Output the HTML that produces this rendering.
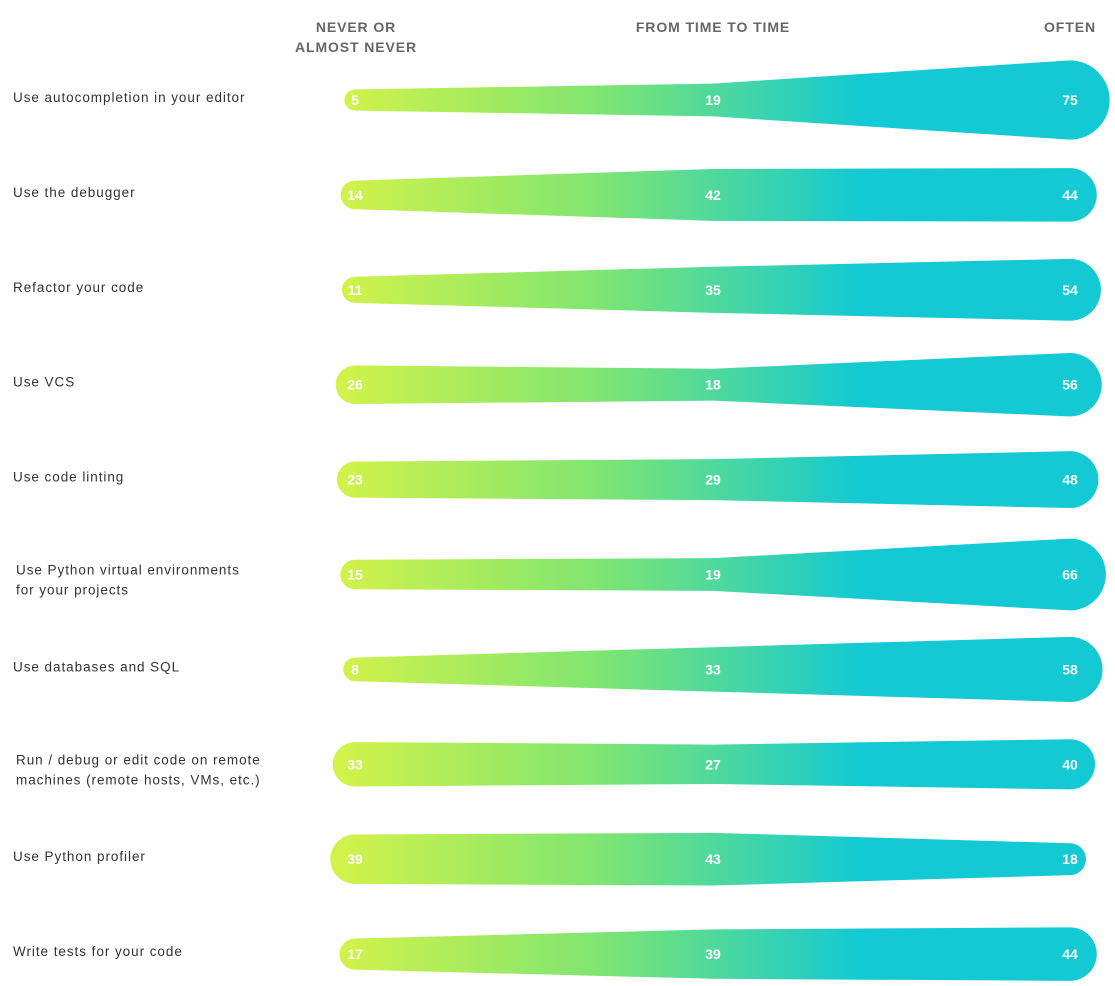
<!DOCTYPE html>
<html><head><meta charset="utf-8"><style>
body{margin:0;background:#fff;width:1115px;height:981px;overflow:hidden;font-family:"Liberation Sans",sans-serif}
</style></head><body>
<svg id="chart" width="1115" height="981" xmlns="http://www.w3.org/2000/svg">
<defs><linearGradient id="g" gradientUnits="userSpaceOnUse" x1="340" y1="0" x2="860" y2="0">
<stop offset="0" stop-color="#d2f24a"/><stop offset="0.5" stop-color="#7ee572"/><stop offset="1" stop-color="#13c9d3"/></linearGradient></defs>
<g font-weight="bold" font-size="14" fill="#666" text-anchor="middle" letter-spacing="0.9">
<text x="356" y="32">NEVER OR</text>
<text x="356" y="52">ALMOST NEVER</text>
<text x="713" y="32">FROM TIME TO TIME</text>
<text x="1070" y="32">OFTEN</text>
</g>
<g id="rows"></g>
</svg>
<script>
const categories=[["Use autocompletion in your editor"],["Use the debugger"],["Refactor your code"],["Use VCS"],["Use code linting"],["Use Python virtual environments","for your projects"],["Use databases and SQL"],["Run / debug or edit code on remote","machines (remote hosts, VMs, etc.)"],["Use Python profiler"],["Write tests for your code"]];
const never=[5,14,11,26,23,15,8,33,39,17];
const sometimes=[19,42,35,18,29,19,33,27,43,39];
const often=[75,44,54,56,48,66,58,40,18,44];
const NS="http://www.w3.org/2000/svg";
const g=document.getElementById('rows');
const xs=[355,713,1070];
const h=v=>17+0.83*v;
const rowY=i=>100+i*94.9;
categories.forEach((c,i)=>{
  const y=rowY(i);
  const a=h(never[i])/2,b=h(sometimes[i])/2,r=h(often[i])/2;
  const p=document.createElementNS(NS,'path');
  p.setAttribute('d',`M${xs[0]},${y-a} L${xs[1]},${y-b} L${xs[2]},${y-r} A${r},${r} 0 0 1 ${xs[2]},${y+r} L${xs[1]},${y+b} L${xs[0]},${y+a} A${a},${a} 0 0 1 ${xs[0]},${y-a} Z`);
  p.setAttribute('fill','url(#g)');
  
  
  g.appendChild(p);
  [never[i],sometimes[i],often[i]].forEach((v,k)=>{
    const t=document.createElementNS(NS,'text');
    t.setAttribute('x',xs[k]);t.setAttribute('y',y+5);
    t.setAttribute('fill','#fff');t.setAttribute('font-weight','bold');t.setAttribute('font-size','14');t.setAttribute('text-anchor','middle');
    t.textContent=v;
    
    
    g.appendChild(t);
  });
  c.forEach((line,j)=>{
    const t=document.createElementNS(NS,'text');
    const two=c.length>1;
    t.setAttribute('x',two?16:13);t.setAttribute('y',two?y+j*20:y+2);
    t.setAttribute('fill','#333');t.setAttribute('font-size','13.5');t.setAttribute('letter-spacing','0.95');
    t.textContent=line;
    
    
    g.appendChild(t);
  });
});
</script>
</body></html>
